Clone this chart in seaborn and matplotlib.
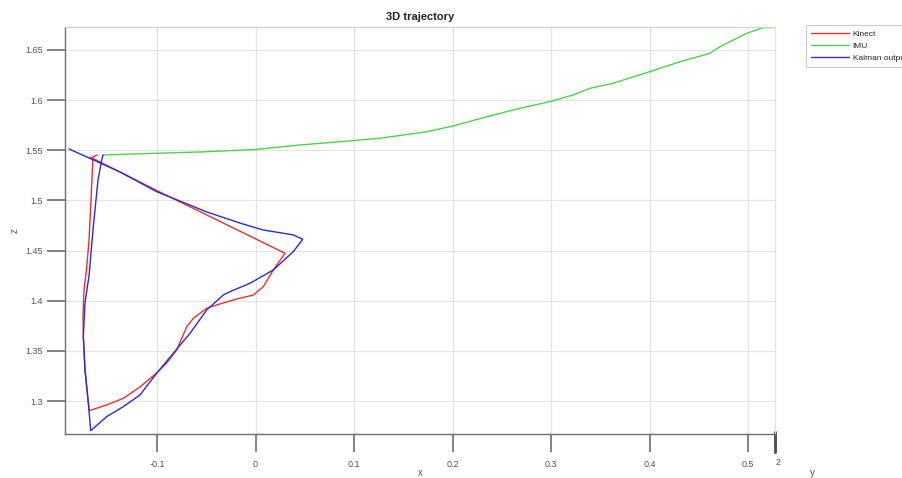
import numpy as np
import pandas as pd
import matplotlib
matplotlib.use("Agg")
import matplotlib.pyplot as plt
import seaborn as sns
from matplotlib.lines import Line2D

# ---- data ----
kinect_x = [-0.1609, -0.1650, -0.1653, -0.1670, -0.1690, -0.1716, -0.1741, -0.1751, -0.1748, -0.1731,
            -0.1697, -0.1687, -0.1511, -0.1342, -0.1173, -0.1003, -0.0902, -0.0800, -0.0698, -0.0631,
            -0.0495, -0.0360, -0.0191, -0.0022, 0.0079, 0.0181, 0.0299, -0.0495, -0.1003, -0.1680]
kinect_z = [1.5453, 1.5433, 1.5373, 1.5005, 1.4606, 1.4307, 1.4107, 1.3858, 1.3641, 1.3310,
            1.2981, 1.2904, 1.2961, 1.3027, 1.3140, 1.3280, 1.3379, 1.3509, 1.3741, 1.3825,
            1.3925, 1.3968, 1.4017, 1.4057, 1.4140, 1.4307, 1.4473, 1.4855, 1.5099, 1.5433]

imu_x = [-0.1548, -0.1071, -0.0563, 0.0005, 0.0452, 0.0990, 0.1264, 0.1741, 0.2005, 0.2350,
         0.2685, 0.2990, 0.3223, 0.3396, 0.3629, 0.4005, 0.4310, 0.4614, 0.4716, 0.4987,
         0.5152, 0.5254]
imu_z = [1.5453, 1.5468, 1.5483, 1.5508, 1.5553, 1.5596, 1.5620, 1.5685, 1.5742, 1.5835,
         1.5919, 1.5985, 1.6051, 1.6118, 1.6168, 1.6284, 1.6383, 1.6467, 1.6533, 1.6666,
         1.6722, 1.6722]

kalman_x = [-0.1548, -0.1561, -0.1599, -0.1650, -0.1689, -0.1731, -0.1748, -0.1731, -0.1697, -0.1673,
            -0.1511, -0.1342, -0.1173, -0.1003, -0.0835, -0.0665, -0.0495, -0.0327, -0.0259, -0.0056,
            0.0181, 0.0384, 0.0479, 0.0384, 0.0079, -0.0157, -0.0495, -0.1003, -0.1376, -0.1893]
kalman_z = [1.5453, 1.5403, 1.5204, 1.4705, 1.4257, 1.3978, 1.3641, 1.3310, 1.2981, 1.2704,
            1.2844, 1.2944, 1.3060, 1.3277, 1.3476, 1.3675, 1.3908, 1.4057, 1.4090, 1.4174,
            1.4307, 1.4489, 1.4613, 1.4656, 1.4705, 1.4774, 1.4885, 1.5087, 1.5284, 1.5513]

series_names = ["Kinect", "IMU", "Kalman output"]
series_colors = ["#e8302c", "#4bd34b", "#2b2bd6"]
x_ticks = [-0.1, 0, 0.1, 0.2, 0.3, 0.4, 0.5]
x_tick_labels = ["-0.1", "0", "0.1", "0.2", "0.3", "0.4", "0.5"]
z_ticks = [1.3, 1.35, 1.4, 1.45, 1.5, 1.55, 1.6, 1.65]
z_tick_labels = ["1.3", "1.35", "1.4", "1.45", "1.5", "1.55", "1.6", "1.65"]

frames = []
for name, xs, zs in [("Kinect", kinect_x, kinect_z), ("IMU", imu_x, imu_z), ("Kalman output", kalman_x, kalman_z)]:
    frames.append(pd.DataFrame({"x": xs, "z": zs, "series": name, "order": range(len(xs))}))
df = pd.concat(frames, ignore_index=True)

sns.set_style("white")
plt.rcParams["font.family"] = ["Liberation Sans", "DejaVu Sans"]

fig = plt.figure(figsize=(9.02, 4.78), dpi=100)
ax = fig.add_axes([65 / 902, 44 / 478, 710 / 902, 407.5 / 478])

for name, col in zip(series_names, series_colors):
    sub = df[df["series"] == name]
    sns.lineplot(data=sub, x="x", y="z", sort=False, estimator=None, color=col,
                 linewidth=1.0, ax=ax, legend=False)

ax.set_xlim(-0.1934, 0.5274)
ax.set_ylim(1.2671, 1.6734)
ax.set_xticks(x_ticks)
ax.set_xticklabels(x_tick_labels)
ax.set_yticks(z_ticks)
ax.set_yticklabels(z_tick_labels)
ax.grid(True, color="#e3e3e3", linewidth=0.8)
ax.set_axisbelow(True)

for s in ["left", "bottom"]:
    ax.spines[s].set_color("#6e6e6e")
    ax.spines[s].set_linewidth(1.0)
ax.spines["top"].set_color("#cfcfcf")
ax.spines["right"].set_color("#e3e3e3")
ax.spines["right"].set_linewidth(0.8)

ax.tick_params(axis="both", bottom=True, left=True, direction="out", length=13, width=1.2,
               color="#6e6e6e", labelsize=6.5, labelcolor="#555555")
ax.tick_params(axis="x", pad=6)
ax.tick_params(axis="y", pad=3)

ax.set_xlabel("x", fontsize=7, color="#555555", labelpad=-1)
ax.set_ylabel("z", fontsize=7, color="#555555", labelpad=4)
ax.set_title("3D trajectory", fontsize=8, fontweight="bold", color="#222222", pad=5)

# 3D y-axis remnant at bottom-right
ax.add_line(Line2D([1.0, 1.0], [0.005, -0.045], transform=ax.transAxes, color="#555555",
                   linewidth=2.2, clip_on=False))
ax.text(1.005, -0.07, "2", transform=ax.transAxes, fontsize=6.5, color="#555555",
        ha="center", va="center")
ax.text(1.052, -0.095, "y", transform=ax.transAxes, fontsize=7, color="#555555",
        ha="center", va="center")

handles = [Line2D([0], [0], color=c, linewidth=1.0) for c in series_colors]
leg = ax.legend(handles, series_names, loc="upper left", bbox_to_anchor=(806 / 902, 1 - 25 / 478),
                bbox_transform=fig.transFigure, fontsize=6, frameon=True, fancybox=False,
                handlelength=4.5, handletextpad=0.5, borderpad=0.6, labelspacing=0.5,
                borderaxespad=0)
leg.get_frame().set_edgecolor("#bdbdbd")
leg.get_frame().set_linewidth(0.8)

fig.savefig("out.png", dpi=100)
